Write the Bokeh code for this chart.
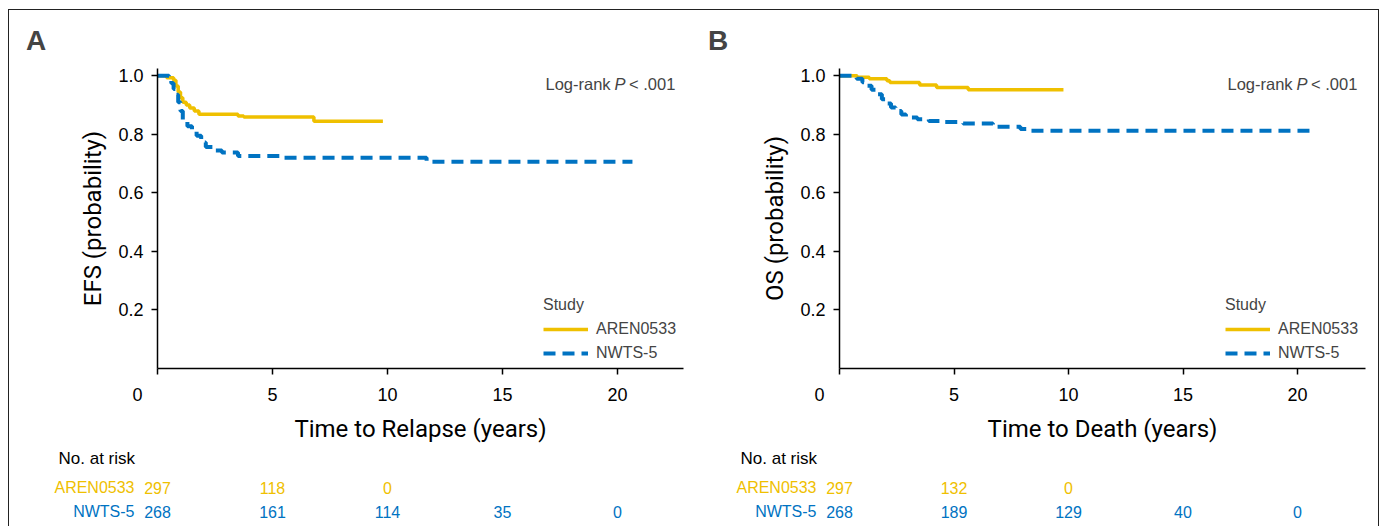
from bokeh.plotting import figure
from bokeh.models import Range1d, FixedTicker, Label, Legend, LegendItem, PrintfTickFormatter, Title
from bokeh.layouts import row, column
from bokeh.core.properties import value
from bokeh.embed import file_html
from bokeh.resources import INLINE

# ---------------- data ----------------
panel_letters = ["A", "B"]
y_titles = ["EFS (probability)", "OS (probability)"]
x_titles = ["Time to Relapse (years)", "Time to Death (years)"]
studies = ["AREN0533", "NWTS-5"]
x_ticks = [0, 5, 10, 15, 20]
y_ticks = [0.2, 0.4, 0.6, 0.8, 1.0]
risk_times = [0, 5, 10, 15, 20]

# Panel A: event-free survival
efs_aren_t = [0, 0.4, 0.7, 0.8, 0.9, 1.0, 1.1, 1.25, 1.4, 1.6, 1.8, 3.5, 3.75, 6.8, 9.8]
efs_aren_s = [1.0, 0.993, 0.985, 0.965, 0.945, 0.925, 0.91, 0.9, 0.89, 0.88, 0.869, 0.863, 0.859, 0.845, 0.845]
efs_nwts_t = [0, 0.5, 0.6, 0.7, 0.8, 0.9, 1.0, 1.1, 1.3, 1.5, 1.7, 1.9, 2.1, 2.4, 2.8, 3.5, 5.3, 11.7, 20.65]
efs_nwts_s = [1.0, 0.99, 0.975, 0.955, 0.935, 0.91, 0.88, 0.845, 0.828, 0.812, 0.795, 0.772, 0.757, 0.745, 0.738, 0.726, 0.72, 0.706, 0.706]

# Panel B: overall survival
os_aren_t = [0, 0.77, 1.3, 2.07, 2.2, 3.5, 4.24, 5.62, 9.78]
os_aren_s = [1.0, 0.995, 0.99, 0.983, 0.977, 0.969, 0.96, 0.952, 0.952]
os_nwts_t = [0, 0.75, 1.0, 1.2, 1.4, 1.6, 1.85, 2.05, 2.25, 2.45, 2.7, 2.9, 3.4, 3.9, 4.5, 5.4, 6.7, 7.9, 8.2, 20.7]
os_nwts_s = [1.0, 0.99, 0.978, 0.966, 0.952, 0.937, 0.92, 0.905, 0.892, 0.88, 0.868, 0.858, 0.852, 0.846, 0.842, 0.837, 0.826, 0.818, 0.812, 0.812]

# Numbers at risk
risk_efs_aren = [297, 118, 0]
risk_efs_nwts = [268, 161, 114, 35, 0]
risk_os_aren = [297, 132, 0]
risk_os_nwts = [268, 189, 129, 40, 0]

pvalue_parts = ["Log-rank", "P", "< .001"]
risk_title = "No. at risk"

# ---------------- style ----------------
YELLOW = "#EFC000"
BLUE = "#0073C2"
SANS = "Liberation Sans"
COND = "Roboto"

FRAME_W = 526
FRAME_H = 300
TOP = 58
LEFT = 148
BOTTOM = 80
TABLE_H = 78
YMAX = 1.025
PYU = FRAME_H / YMAX   # pixels per probability unit


def make_panel(i, width, right_border, xmax, curves):
    p = figure(width=width, height=TOP + FRAME_H + BOTTOM,
               x_range=Range1d(0, xmax), y_range=Range1d(0, YMAX),
               min_border_left=LEFT, min_border_right=right_border,
               min_border_top=TOP, min_border_bottom=BOTTOM,
               output_backend="svg", toolbar_location=None)
    p.xgrid.visible = False
    p.ygrid.visible = False
    p.outline_line_color = None

    pxu = FRAME_W / xmax

    def xd(dx):
        return dx / pxu

    def yd(dy):
        return dy / PYU

    for ax in (p.xaxis[0], p.yaxis[0]):
        ax.axis_line_color = "black"
        ax.axis_line_width = 1.5
        ax.major_tick_line_color = "black"
        ax.major_tick_line_width = 1.5
        ax.major_tick_out = 6
        ax.major_tick_in = 0
        ax.minor_tick_line_color = None
        ax.major_label_text_font = SANS
        ax.major_label_text_font_size = "18px"
        ax.major_label_text_color = "black"
        ax.axis_label_text_font = COND
        ax.axis_label_text_font_size = "24px"
        ax.axis_label_text_font_style = "normal"
        ax.axis_label_text_color = "black"

    p.xaxis.ticker = FixedTicker(ticks=x_ticks)
    # the origin label sits left of the corner in the reference: pad it with figure spaces
    p.xaxis.major_label_overrides = {0: "0" + "\u2007" * 4}
    p.yaxis.ticker = FixedTicker(ticks=y_ticks)
    p.yaxis.formatter = PrintfTickFormatter(format="%.1f")
    p.xaxis.major_label_standoff = 10
    p.yaxis.major_label_standoff = 8
    p.xaxis.axis_label = x_titles[i]
    p.yaxis.axis_label = y_titles[i]
    p.xaxis.axis_label_standoff = 7
    p.yaxis.axis_label_standoff = 8

    # panel letter as a title
    t = Title(text=panel_letters[i], align="left", offset=26 - 157.5,
              text_font=SANS, text_font_size="28px", text_font_style="bold",
              standoff=25)
    p.add_layout(t, "above")

    # curves
    (ta, sa), (tn, sn) = curves
    r_a = p.step(ta, sa, mode="after", line_color=YELLOW, line_width=3.5)
    r_n = p.step(tn, sn, mode="after", line_color=BLUE, line_width=4, line_dash="12 7")

    legend = Legend(items=[LegendItem(label=studies[0], renderers=[r_a]),
                           LegendItem(label=studies[1], renderers=[r_n])],
                    title="Study", location=(386, 5))
    legend.border_line_color = None
    legend.background_fill_alpha = 0
    legend.padding = 0
    legend.margin = 0
    legend.spacing = 4
    legend.glyph_width = 45
    legend.glyph_height = 20
    legend.label_height = 20
    legend.label_standoff = 8
    legend.label_text_font = SANS
    legend.label_text_font_size = "16px"
    legend.title_text_font = SANS
    legend.title_text_font_size = "16px"
    legend.title_text_font_style = "normal"
    legend.title_standoff = 5
    p.add_layout(legend, "center")

    # log-rank
    yl = yd(285)
    p.add_layout(Label(x=xd(388), y=yl, text=pvalue_parts[0], text_font=SANS,
                       text_font_size="16.5px", text_align="left", text_baseline="middle"))
    p.add_layout(Label(x=xd(457), y=yl, text=pvalue_parts[1], text_font=SANS,
                       text_font_size="16.5px", text_font_style="italic",
                       text_align="left", text_baseline="middle"))
    p.add_layout(Label(x=xd(471.5), y=yl, text=pvalue_parts[2], text_font=SANS,
                       text_font_size="16.5px", text_align="left", text_baseline="middle"))
    return p


def make_table(width, xmax, risks):
    pxu = FRAME_W / xmax
    # same horizontal scale as the panel above; vertical scale continues the probability axis
    y_top = -(BOTTOM) / PYU
    y_bot = -(BOTTOM + TABLE_H) / PYU
    t = figure(width=width, height=TABLE_H,
               x_range=Range1d(-LEFT / pxu, (width - LEFT) / pxu),
               y_range=Range1d(y_bot, y_top),
               min_border=0, x_axis_location=None, y_axis_location=None,
               output_backend="svg", toolbar_location=None)
    t.grid.visible = False
    t.outline_line_color = None

    row_y = [-119 / PYU, -143 / PYU]
    colors = [YELLOW, BLUE]
    t.text(x=[-99 / pxu], y=[-90 / PYU], text=[risk_title], text_font=value(SANS),
           text_font_size=value("17px"), text_color="black",
           text_align="left", text_baseline="middle")
    for k in range(2):
        t.text(x=[-23 / pxu], y=[row_y[k]], text=[studies[k]], text_font=value(SANS),
               text_font_size=value("16px"), text_color=colors[k],
               text_align="right", text_baseline="middle")
        n = len(risks[k])
        t.text(x=risk_times[:n], y=[row_y[k]] * n, text=[str(v) for v in risks[k]],
               text_font=value(SANS), text_font_size=value("16px"), text_color=colors[k],
               text_align="center", text_baseline="middle")
    return t


W1, W2 = 682, 687
XMAX1 = FRAME_W / 23.0
XMAX2 = FRAME_W / 22.9

p1 = make_panel(0, W1, W1 - LEFT - FRAME_W, XMAX1,
                [(efs_aren_t, efs_aren_s), (efs_nwts_t, efs_nwts_s)])
p2 = make_panel(1, W2, W2 - LEFT - FRAME_W, XMAX2,
                [(os_aren_t, os_aren_s), (os_nwts_t, os_nwts_s)])
t1 = make_table(W1, XMAX1, [risk_efs_aren, risk_efs_nwts])
t2 = make_table(W2, XMAX2, [risk_os_aren, risk_os_nwts])

layout = column(row(p1, p2), row(t1, t2),
                styles={"border-top": "1.5px solid #222", "border-left": "1.5px solid #222",
                        "border-right": "1.5px solid #222",
                        "margin-top": "8.5px", "margin-left": "8px"})

open("out.html", "w").write(file_html(layout, INLINE))
